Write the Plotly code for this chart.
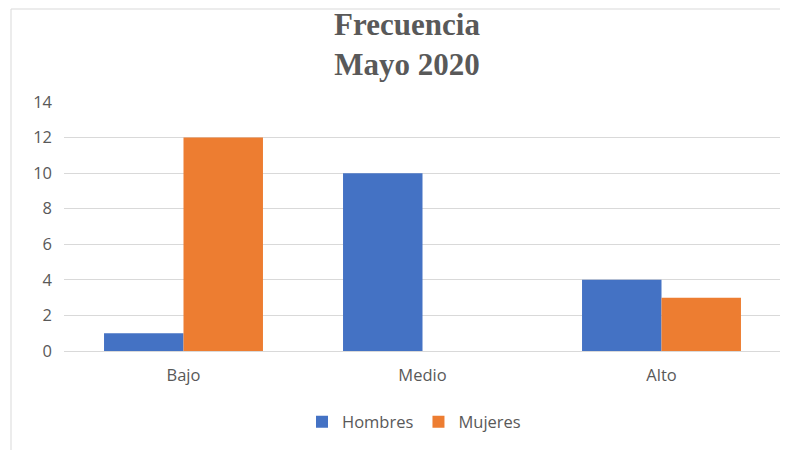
import plotly.graph_objects as go

categories = ["Bajo", "Medio", "Alto"]
hombres = [1, 10, 4]
mujeres = [12, 0, 3]
y_ticks = [0, 2, 4, 6, 8, 10, 12, 14]

# page body has an 8px margin, so figure coordinates = image coordinates - 8
OFF = 8
W, H = 780, 442
L, R, T, B = 64 - OFF, 7, 102 - OFF, 99
pw = W - L - R
ph = H - T - B

def px_x(x):
    return (x - OFF - L) / pw

def px_y(y):
    return (H - B - (y - OFF)) / ph

fig = go.Figure()
fig.add_trace(go.Bar(name="Hombres", x=categories, y=hombres, marker_color="#4472C4",
                     marker_line_width=0))
fig.add_trace(go.Bar(name="Mujeres", x=categories, y=mujeres, marker_color="#ED7D31",
                     marker_line_width=0))

fig.update_layout(
    width=W, height=H,
    margin=dict(l=L, r=R, t=T, b=B),
    paper_bgcolor="white", plot_bgcolor="white",
    barmode="group", bargap=0.335, bargroupgap=0,
    title=dict(text="<b>Frecuencia<br>Mayo 2020</b>", x=px_x(407), xref="paper", xanchor="center",
               y=1 - (35 - OFF) / H, yanchor="middle",
               font=dict(family="Liberation Serif", size=31, color="#595959")),
    font=dict(family="Open Sans", color="#595959"),
    showlegend=True,
    legend=dict(orientation="h", x=px_x(414), xanchor="center", y=px_y(422), yanchor="middle",
                font=dict(family="Open Sans", size=16.5, color="#595959"),
                itemwidth=30, traceorder="normal"),
    xaxis=dict(showgrid=False, showline=False, ticks="", tickfont=dict(size=16.5, color="#595959"),
               ticklabelstandoff=12),
    yaxis=dict(range=[0, 14], tickvals=y_ticks, showgrid=True, gridcolor="#D9D9D9", gridwidth=1,
               zeroline=True, zerolinecolor="#D9D9D9", zerolinewidth=1, showline=False,
               ticks="", tickfont=dict(size=16.5, color="#595959"), ticklabelstandoff=11),
    shapes=[
        dict(type="line", xref="paper", yref="paper", x0=px_x(11), x1=px_x(800),
             y0=px_y(9), y1=px_y(9), line=dict(color="#D9D9D9", width=1)),
        dict(type="line", xref="paper", yref="paper", x0=px_x(11), x1=px_x(11),
             y0=px_y(9), y1=px_y(460), line=dict(color="#D9D9D9", width=1)),
    ],
)

fig.write_html("out.html")
